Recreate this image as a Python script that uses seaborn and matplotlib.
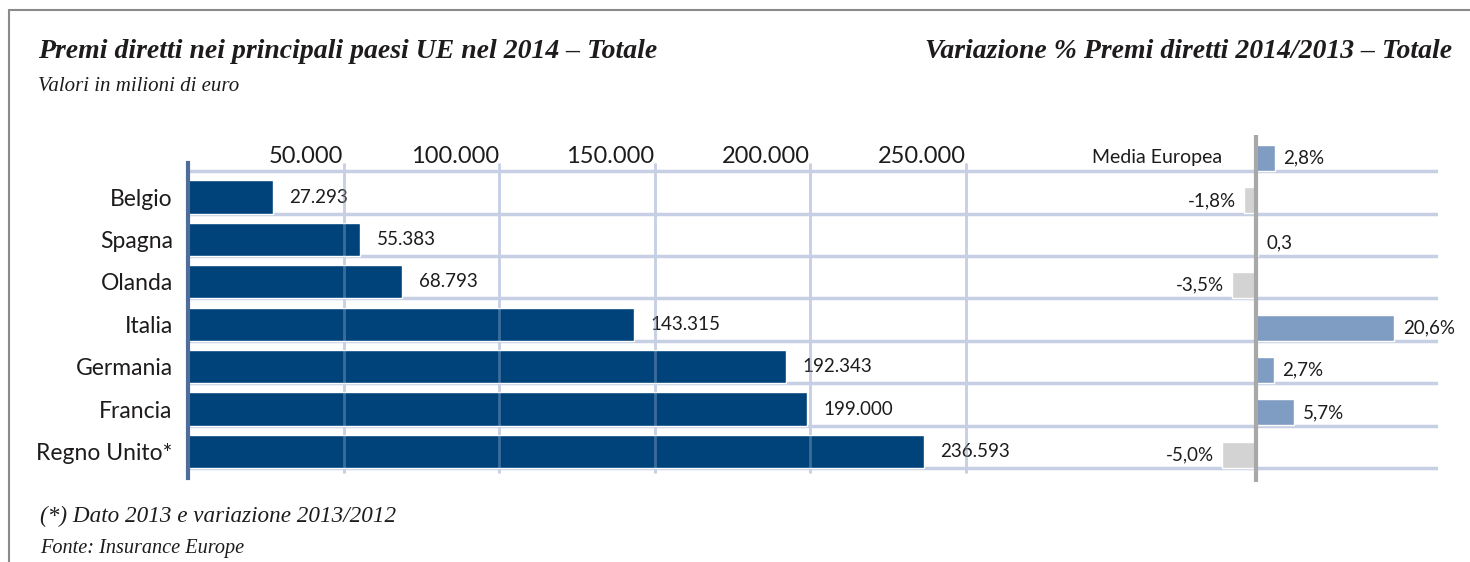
import matplotlib.pyplot as plt
import numpy as np
import pandas as pd
import seaborn as sns
from matplotlib.lines import Line2D

# --- data ---
countries = ["Belgio", "Spagna", "Olanda", "Italia", "Germania", "Francia", "Regno Unito*"]
premi = [27293, 55383, 68793, 143315, 192343, 199000, 236593]
x_ticks = [50000, 100000, 150000, 200000, 250000]

var_labels = ["Media Europea"] + countries
variazione = [2.8, -1.8, 0.3, -3.5, 20.6, 2.7, 5.7, -5.0]
var_text = ["2,8%", "-1,8%", "0,3", "-3,5%", "20,6%", "2,7%", "5,7%", "-5,0%"]

NAVY = "#00427a"
POS = "#7f9cc2"
NEG = "#d3d3d3"
GRID = "#c6cfe3"
TXT = "#1e1b1c"

W, H = 1470, 562


def it_num(v):
    return f"{v:,}".replace(",", ".")


sns.set_style("white")
plt.rcParams["font.family"] = ["Lato", "DejaVu Sans"]

fig = plt.figure(figsize=(W / 100, H / 100), dpi=100)

# left panel: premi diretti
ax = fig.add_axes([188 / W, 1 - 478 / H, (1438 - 188) / W, (478 - 163) / H])
sns.barplot(x=premi, y=countries, orient="h", color=NAVY, saturation=1,
            width=0.78, ax=ax, zorder=3)
ax.set_xlim(0, 401929)
ax.set_ylim(6.627, -0.802)
ax.set_xlabel("")
ax.set_ylabel("")

ax.vlines(x_ticks, -0.802, 6.51, colors=GRID, lw=2, zorder=1)
ax.vlines(x_ticks, -0.802, 6.51, colors=GRID, lw=2, alpha=0.3, zorder=4)
ax.hlines(np.arange(-1, len(countries)) + 0.39, 0, ax.get_xlim()[1],
          colors=GRID, lw=2.5, zorder=2)

ax.xaxis.tick_top()
ax.set_xticks(x_ticks, labels=[it_num(t) for t in x_ticks])
for lbl in ax.get_xticklabels():
    lbl.set_ha("right")
ax.tick_params(axis="x", length=0, pad=-3, labelsize=17, labelcolor=TXT)
ax.tick_params(axis="y", length=0, pad=11, labelsize=16.5, labelcolor=TXT)

for side in ["top", "right", "bottom"]:
    ax.spines[side].set_visible(False)
ax.spines["left"].set_color("#4f6d9b")
ax.spines["left"].set_linewidth(3)
ax.spines["left"].set_zorder(5)

ax.bar_label(ax.containers[0], labels=[it_num(v) for v in premi],
             padding=12, fontsize=13.5, color=TXT)

# right panel: variazione %
ax2 = fig.add_axes([1100 / W, 1 - 478 / H, (1438 - 1100) / W, (478 - 163) / H])
ax2.patch.set_alpha(0)
df_var = pd.DataFrame({"paese": var_labels, "var": variazione})
bar_colors = [POS if v > 0 else NEG for v in variazione]
sns.barplot(data=df_var, x="var", y="paese", hue="paese", palette=bar_colors,
            orient="h", width=0.61, saturation=1, legend=False, ax=ax2, zorder=3)
ax2.set_xlim(-23.21, 27.08)
ax2.set_ylim(7.547, 0.118)
for p in ax2.patches:
    p.set_clip_on(False)
for cont, txt in zip(ax2.containers, var_text):
    ax2.bar_label(cont, labels=[txt], padding=6, fontsize=13.5, color=TXT,
                  annotation_clip=False)
ax2.vlines(0, -0.54, 7.64, colors="#a8a8a8", lw=3, clip_on=False, zorder=5)
ax2.text(-5.06, 0, "Media Europea", ha="right", va="center", fontsize=14,
         color=TXT, clip_on=False)
ax2.set_axis_off()

# titles and notes
serif = ["Liberation Serif", "DejaVu Serif"]
fig.text(38 / W, 1 - 52 / H, "Premi diretti nei principali paesi UE nel 2014 \u2013 Totale",
         family=serif, style="italic", weight="bold", fontsize=20,
         color=TXT, va="center", ha="left")
fig.text(1452 / W, 1 - 52 / H, "Variazione % Premi diretti 2014/2013 \u2013 Totale",
         family=serif, style="italic", weight="bold", fontsize=20,
         color=TXT, va="center", ha="right")
fig.text(38 / W, 1 - 86 / H, "Valori in milioni di euro", family=serif,
         style="italic", fontsize=15, color=TXT, va="center", ha="left")
fig.text(40 / W, 1 - 516 / H, "(*) Dato 2013 e variazione 2013/2012", family=serif,
         style="italic", fontsize=16.7, color=TXT, va="center", ha="left")
fig.text(40 / W, 1 - 548 / H, "Fonte: Insurance Europe", family=serif,
         style="italic", fontsize=14.6, color=TXT, va="center", ha="left")

# frame around the chart
fig.add_artist(Line2D([9 / W, 1], [1 - 10 / H, 1 - 10 / H], color="#8a8a8a", lw=1.5))
fig.add_artist(Line2D([9 / W, 9 / W], [0, 1 - 10 / H], color="#8a8a8a", lw=1.5))

fig.savefig("out.png", dpi=100)
